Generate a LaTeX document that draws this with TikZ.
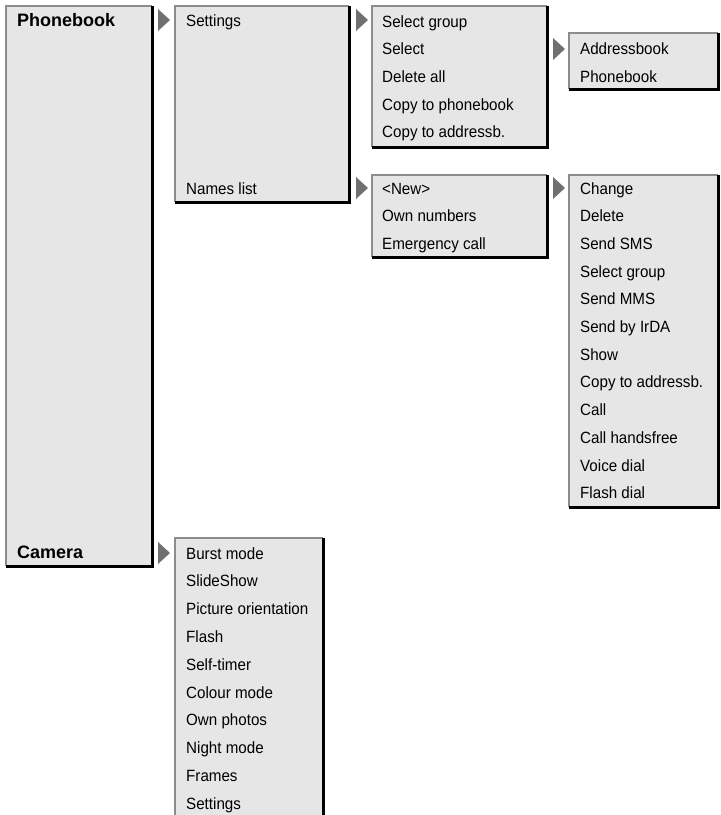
\documentclass[tikz,border=0pt]{standalone}
\usepackage{fontspec}
\setmainfont{Liberation Sans}
\newfontfamily\menufont[FakeStretch=0.93]{Liberation Sans}
\definecolor{boxfill}{HTML}{E6E6E6}
\definecolor{lightedge}{HTML}{8C8C8C}
\definecolor{arrowgray}{HTML}{707070}
\tikzset{
  item/.style={anchor=base west, inner sep=0pt, font=\fontsize{16.3}{18}\menufont},
  head/.style={anchor=base west, inner sep=0pt, font=\fontsize{18}{20}\selectfont\bfseries},
  lightline/.style={draw=lightedge, line width=1.5pt},
  darkline/.style={draw=black, line width=3pt},
  pointer/.style={fill=arrowgray},
}
\newcommand\menubox[4]{%
  \fill[boxfill] (#1,#2) rectangle (#3,#4);
  \draw[lightline] (#1,#4) -- (#1,#2) -- (#3,#2);
  \draw[darkline] (#3,#2) -- (#3,#4) -- (#1,#4);
}
\newcommand\menutri[2]{%
  \fill[pointer] (#1,#2-11) -- (#1+12,#2) -- (#1,#2+11) -- cycle;
}
\begin{document}
\begin{tikzpicture}[x=1pt,y=-1pt]
\useasboundingbox (0,0) rectangle (721,815);
\begin{scope}
\clip (0,0) rectangle (721,815);
% level 1
\menubox{6}{6}{152}{566}
\node[head] (phonebook) at (17,26) {Phonebook};
\node[head] (camera) at (17,558) {Camera};
\menutri{158}{20}
\menutri{158}{553}
% level 2
\menubox{175}{6}{349}{202}
\node[item] (settings) at (186,26) {Settings};
\node[item] (names) at (186,194) {Names list};
\menutri{356}{20}
\menutri{356}{188}
% level 3 upper
\menubox{372}{6}{547}{147}
\foreach \t [count=\i from 0] in {Select group,Select,Delete all,Copy to phonebook,Copy to addressb.}
  \node[item] (c1-\i) at (382,{27+\i*27.7}) {\t};
\menutri{553}{49}
% level 4 upper
\menubox{569}{33}{718}{89}
\node[item] (d1-0) at (580,54) {Addressbook};
\node[item] (d1-1) at (580,82) {Phonebook};
% level 3 lower
\menubox{372}{175}{547}{257}
\foreach \t [count=\i from 0] in {<New>,Own numbers,Emergency call}
  \node[item] (c2-\i) at (382,{194+\i*27.7}) {\t};
\menutri{553}{188}
% level 4 lower
\menubox{569}{175}{718}{507}
\foreach \t [count=\i from 0] in {Change,Delete,Send SMS,Select group,Send MMS,Send by IrDA,Show,Copy to addressb.,Call,Call handsfree,Voice dial,Flash dial}
  \node[item] (d2-\i) at (580,{194+\i*27.7}) {\t};
% camera submenu
\menubox{175}{538}{323}{830}
\foreach \t [count=\i from 0] in {Burst mode,SlideShow,Picture orientation,Flash,Self-timer,Colour mode,Own photos,Night mode,Frames,Settings}
  \node[item] (e-\i) at (186,{559+\i*27.8}) {\t};
\end{scope}
\end{tikzpicture}
\end{document}
